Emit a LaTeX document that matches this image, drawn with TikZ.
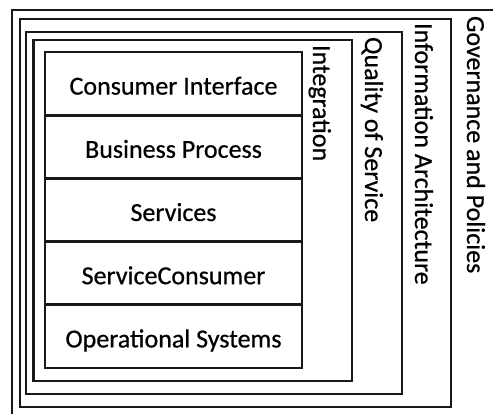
\documentclass[tikz,border=0pt]{standalone}
\usepackage{fontspec}
\setmainfont[FakeBold=0.6,AutoFakeBold=0.6]{Carlito}
\begin{document}
\begin{tikzpicture}[x=1pt,y=-1pt,
  box/.style={draw=black!90, line width=2.7pt},
  framebox/.style={box, inner sep=0pt, outer sep=0pt, anchor=north west},
  layer/.style={box, minimum width=257pt, minimum height=63.2pt, inner sep=0pt, outer sep=0pt,
    anchor=north west, text height=22pt, text depth=0pt, font=\fontsize{26}{30}\selectfont},
  vlabel/.style={rotate=-90, anchor=base west, inner sep=0pt, outer sep=0pt, font=\fontsize{26}{30}\selectfont}]
\useasboundingbox (0,0) rectangle (493,414);
\clip (0,0) rectangle (493,414);
% outermost frame (Governance and Policies), cut by the picture edge
\coordinate (govbl) at (12,430);
\coordinate (govtl) at (12,10);
\coordinate (govtr) at (510,10);
\draw[box] (govbl) -- (govtl) -- (govtr);
% nested frames
\node[framebox, minimum width=431pt, minimum height=388pt] (info) at (20,19) {};
\node[framebox, minimum width=376pt, minimum height=362pt] (qos) at (26,32) {};
\node[framebox, minimum width=318.5pt, minimum height=341pt] (integ) at (33.5,40) {};
% layer stack
\node[layer] (ci) at (45,52) {Consumer Interface};
\node[layer] (bp) at (45,115.2) {Business Process};
\node[layer] (sv) at (45,178.4) {Services};
\node[layer] (sc) at (45,241.6) {ServiceConsumer};
\node[layer] (os) at (45,304.8) {Operational Systems};
% vertical labels
\node[vlabel] (lgov) at (467,16) {Governance and Policies};
\node[vlabel] (linfo) at (415,23) {Information Architecture};
\node[vlabel] (lqos) at (365,37) {Quality of Service};
\node[vlabel] (linteg) at (313,45) {Integration};
\end{tikzpicture}
\end{document}
